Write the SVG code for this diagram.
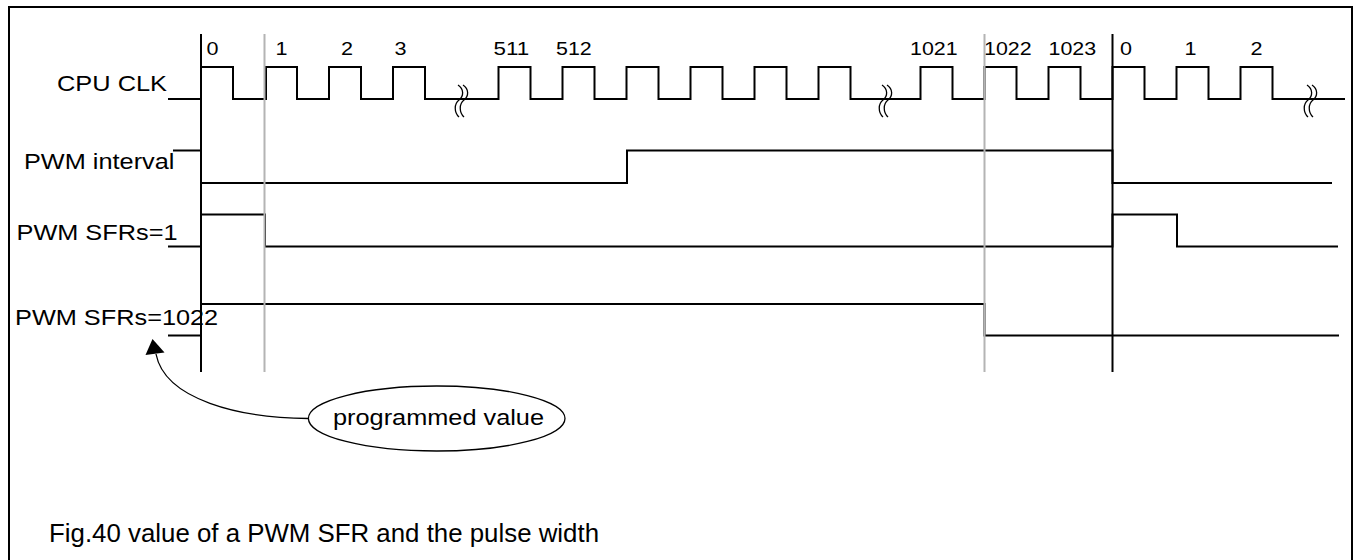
<svg xmlns="http://www.w3.org/2000/svg" width="1356" height="560" viewBox="0 0 1356 560">
<style>
.sig{fill:none;stroke:#000;stroke-width:2;stroke-linejoin:miter}
.vk{stroke:#000;stroke-width:2}
.vg{stroke:#b4b4b4;stroke-width:2}
.brk{fill:none;stroke:#000;stroke-width:1.3}
.lbl{font-family:"Liberation Sans",Arial,sans-serif;font-size:22px;fill:#000}
.num{font-family:"Liberation Sans",Arial,sans-serif;font-size:17.5px;fill:#000}
.cap{font-family:"Liberation Sans",Arial,sans-serif;font-size:25px;fill:#000}
.thin{fill:none;stroke:#000;stroke-width:1.3}
</style>
<rect width="1356" height="560" fill="#fff"/>
<path d="M9 562 V7 H1352 V562" fill="none" stroke="#000" stroke-width="2"/>

<g id="clk">
<text class="lbl" x="57" y="91" textLength="110" lengthAdjust="spacingAndGlyphs">CPU CLK</text>
<path class="sig" d="M168 99 H201 V67 H233 V99 H266 V67 H297 V99 H329 V67 H361 V99 H393 V67 H425 V99 H498.5 V67 H530.5 V99 H562.5 V67 H594.5 V99 H626.5 V67 H658.5 V99 H690.5 V67 H722.5 V99 H754.5 V67 H786.5 V99 H818.5 V67 H850.5 V99 H920.5 V67 H952.5 V99 H984.5 V67 H1016.5 V99 H1048.5 V67 H1080.5 V99 H1112.5 V67 H1144.5 V99 H1176.5 V67 H1208.5 V99 H1240.5 V67 H1272.5 V99 H1345"/>
</g>

<g id="clk-numbers">
<text class="num" x="206.5" y="55" textLength="12" lengthAdjust="spacingAndGlyphs">0</text>
<text class="num" x="275.5" y="55" textLength="12" lengthAdjust="spacingAndGlyphs">1</text>
<text class="num" x="341" y="55" textLength="12" lengthAdjust="spacingAndGlyphs">2</text>
<text class="num" x="394.5" y="55" textLength="12" lengthAdjust="spacingAndGlyphs">3</text>
<text class="num" x="493.5" y="55" textLength="35.7" lengthAdjust="spacingAndGlyphs">511</text>
<text class="num" x="556" y="55" textLength="35.7" lengthAdjust="spacingAndGlyphs">512</text>
<text class="num" x="910" y="55" textLength="47.6" lengthAdjust="spacingAndGlyphs">1021</text>
<text class="num" x="984" y="55" textLength="47.6" lengthAdjust="spacingAndGlyphs">1022</text>
<text class="num" x="1048.5" y="55" textLength="47.6" lengthAdjust="spacingAndGlyphs">1023</text>
<text class="num" x="1120" y="55" textLength="12" lengthAdjust="spacingAndGlyphs">0</text>
<text class="num" x="1184.5" y="55" textLength="12" lengthAdjust="spacingAndGlyphs">1</text>
<text class="num" x="1250.5" y="55" textLength="12" lengthAdjust="spacingAndGlyphs">2</text>
</g>

<g id="breaks">
<path class="brk" d="M458 85 C464 89 464 96 459 100 C454 104 454 112 459 117"/>
<path class="brk" d="M463 85 C469 89 469 96 464 100 C459 104 459 112 464 117"/>
<path class="brk" d="M882 85 C888 89 888 96 883 100 C878 104 878 112 883 117"/>
<path class="brk" d="M887 85 C893 89 893 96 888 100 C883 104 883 112 888 117"/>
<path class="brk" d="M1307 85 C1313 89 1313 96 1308 100 C1303 104 1303 112 1308 117"/>
<path class="brk" d="M1312 85 C1318 89 1318 96 1313 100 C1308 104 1308 112 1313 117"/>
</g>

<g id="pwm-interval">
<text class="lbl" x="24" y="169" textLength="150.4" lengthAdjust="spacingAndGlyphs">PWM interval</text>
<path class="sig" d="M173 150.5 H201 V183 H627 V150.5 H1112.5 V183 H1332"/>
</g>

<g id="pwm-sfr1">
<text class="lbl" x="16.5" y="239.5" textLength="161" lengthAdjust="spacingAndGlyphs">PWM SFRs=1</text>
<path class="sig" d="M168 246.5 H201 V214.5 H265 V246.5 H1112.5 V214.5 H1177 V246.5 H1338"/>
</g>

<g id="pwm-sfr1022">
<text class="lbl" x="15" y="325" textLength="203.2" lengthAdjust="spacingAndGlyphs">PWM SFRs=1022</text>
<path class="sig" d="M168 335.5 H201 V304 H984.5 V335.5 H1339"/>
</g>

<g id="markers">
<line class="vk" x1="201" y1="34" x2="201" y2="372"/>
<line class="vk" x1="1112.5" y1="34" x2="1112.5" y2="372"/>
<line class="vg" x1="264.5" y1="34" x2="264.5" y2="372"/>
<line class="vg" x1="984.5" y1="34" x2="984.5" y2="372"/>
</g>

<g id="programmed-value">
<ellipse class="thin" cx="436.7" cy="418.5" rx="128.3" ry="32.5"/>
<text class="lbl" x="333" y="424.5" textLength="211" lengthAdjust="spacingAndGlyphs">programmed value</text>
</g>

<g id="connectors">
<path class="thin" d="M308.4 418.5 C240 418 165 400 156 354"/>
<polygon points="152.5,339 145.5,355 164.5,352.5" fill="#000"/>
</g>

<g id="caption">
<text class="cap" x="49" y="542" textLength="550" lengthAdjust="spacingAndGlyphs">Fig.40  value of a PWM SFR and the pulse width</text>
</g>
</svg>
